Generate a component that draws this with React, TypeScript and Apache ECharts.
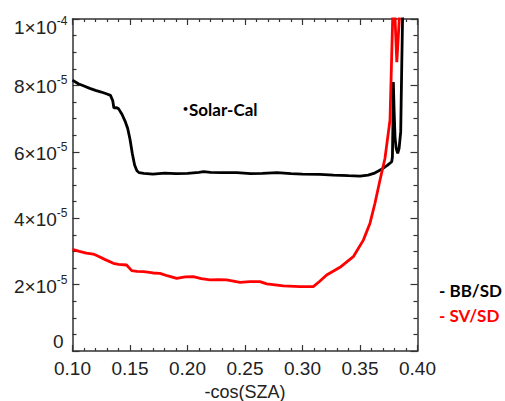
import React, { useEffect, useRef } from "react";
import * as echarts from "echarts";

// BB/SD (black) curve
const bbX = [0.100, 0.105, 0.110, 0.115, 0.120, 0.125, 0.130, 0.133, 0.135, 0.136, 0.138, 0.140, 0.143, 0.146, 0.148, 0.150, 0.152, 0.154, 0.156, 0.158, 0.162, 0.170, 0.180, 0.190, 0.200, 0.210, 0.214, 0.220, 0.230, 0.243, 0.255, 0.265, 0.278, 0.290, 0.300, 0.315, 0.327, 0.340, 0.350, 0.357, 0.362, 0.366, 0.370, 0.374, 0.3776, 0.3782, 0.3786, 0.379, 0.3796, 0.3805, 0.3815, 0.3828, 0.384, 0.3854, 0.3863, 0.387, 0.3878];
const bbY = [81.6e-6, 80.5e-6, 79.8e-6, 79.1e-6, 78.5e-6, 78.0e-6, 77.4e-6, 77.0e-6, 75.4e-6, 73.2e-6, 73.3e-6, 73.0e-6, 71.3e-6, 69.0e-6, 67.0e-6, 63.8e-6, 59.5e-6, 56.0e-6, 54.3e-6, 53.7e-6, 53.5e-6, 53.3e-6, 53.6e-6, 53.4e-6, 53.5e-6, 53.8e-6, 54.0e-6, 53.8e-6, 53.7e-6, 53.7e-6, 53.4e-6, 53.5e-6, 53.7e-6, 53.4e-6, 53.3e-6, 53.2e-6, 53.0e-6, 52.8e-6, 52.7e-6, 53.0e-6, 53.5e-6, 54.2e-6, 55.0e-6, 56.0e-6, 57.0e-6, 58.5e-6, 68e-6, 81e-6, 73e-6, 64e-6, 61e-6, 59.5e-6, 61e-6, 66e-6, 86e-6, 100e-6, 115e-6];

// SV/SD (red) curve
const svX = [0.100, 0.106, 0.112, 0.118, 0.122, 0.128, 0.1355, 0.140, 0.147, 0.1515, 0.156, 0.162, 0.170, 0.176, 0.183, 0.1906, 0.198, 0.205, 0.212, 0.2196, 0.227, 0.234, 0.2457, 0.2543, 0.263, 0.2689, 0.2833, 0.2978, 0.3094, 0.315, 0.321, 0.3326, 0.3442, 0.3529, 0.3587, 0.363, 0.3674, 0.3717, 0.3761, 0.3784, 0.3795, 0.3805, 0.382, 0.3842, 0.385];
const svY = [30.6e-6, 30.0e-6, 29.5e-6, 29.2e-6, 28.6e-6, 27.6e-6, 26.4e-6, 26.1e-6, 25.9e-6, 24.2e-6, 24.0e-6, 23.9e-6, 23.5e-6, 23.4e-6, 22.6e-6, 21.9e-6, 22.3e-6, 22.4e-6, 21.8e-6, 21.4e-6, 21.5e-6, 21.4e-6, 20.7e-6, 20.9e-6, 20.9e-6, 20.2e-6, 19.6e-6, 19.4e-6, 19.4e-6, 21.0e-6, 22.9e-6, 25.2e-6, 28.4e-6, 33.4e-6, 38.5e-6, 44.5e-6, 51.5e-6, 58.0e-6, 69.6e-6, 100e-6, 115e-6, 100e-6, 87e-6, 100e-6, 110e-6];

const xMin = 0.1;
const xMax = 0.4;
const xStep = 0.05;
const yMin = 0;
const yMax = 1e-4;
const yStep = 2e-5;

const xName = "-cos(SZA)";
const annotation = "Solar-Cal";
const legendLabels = ["- BB/SD", "- SV/SD"];
const seriesColors = ["#000000", "#ff0000"];

const axisColor = "#333";
const labelColor = "#222";
const labelFont = "Liberation Sans";

function yFormatter(v: number): string {
  if (Math.abs(v) < 1e-12) return "{z|0}";
  const exp = Math.floor(Math.log10(v) + 1e-9);
  const mant = Math.round(v / Math.pow(10, exp));
  const main = `{a|${mant}×10}{b|${exp}}`;
  if (Math.abs(v - yMax) < 1e-12) return `{e| }\n${main}`;
  return main;
}

export default function App() {
  const ref = useRef<HTMLDivElement>(null);
  useEffect(() => {
    if (!ref.current) return;
    const chart = echarts.init(ref.current, undefined, { renderer: "svg" });
    const tickCommon = {
      axisLine: { show: true, onZero: false, lineStyle: { color: axisColor, width: 1.5 } },
      splitLine: { show: false },
    };
    const bb = bbX.map((x, i) => [x, bbY[i]]);
    const sv = svX.map((x, i) => [x, svY[i]]);
    chart.setOption({
      animation: false,
      backgroundColor: "#fff",
      grid: { left: 72.5, right: 87.5, top: 19, bottom: 50, containLabel: false, outerBoundsMode: "none" },
      xAxis: [
        {
          type: "value",
          position: "bottom",
          min: xMin,
          max: xMax,
          interval: xStep,
          ...tickCommon,
          axisTick: { show: true, inside: true, length: 6, lineStyle: { color: axisColor, width: 1.2 } },
          minorTick: { show: true, splitNumber: 5, length: 3, lineStyle: { color: axisColor, width: 1.2 } },
          axisLabel: {
            formatter: (v: number) => v.toFixed(2),
            fontSize: 19,
            color: labelColor,
            fontFamily: labelFont,
            margin: 8,
          },
          name: xName,
          nameLocation: "middle",
          nameGap: 25,
          nameTextStyle: { fontSize: 18, lineHeight: 18, color: labelColor, fontFamily: labelFont },
        },
        {
          type: "value",
          position: "top",
          min: xMin,
          max: xMax,
          interval: xStep,
          ...tickCommon,
          axisTick: { show: true, inside: true, length: 6, lineStyle: { color: axisColor, width: 1.2 } },
          minorTick: { show: true, splitNumber: 5, length: 3, lineStyle: { color: axisColor, width: 1.2 } },
          axisLabel: { show: false },
        },
      ],
      yAxis: [
        {
          type: "value",
          position: "left",
          min: yMin,
          max: yMax,
          interval: yStep,
          ...tickCommon,
          axisTick: { show: true, inside: true, length: 7, lineStyle: { color: axisColor, width: 1.2 } },
          minorTick: { show: true, splitNumber: 4, length: 4, lineStyle: { color: axisColor, width: 1.2 } },
          axisLabel: {
            formatter: yFormatter,
            margin: 5,
            color: labelColor,
            fontFamily: labelFont,
            verticalAlignMinLabel: "bottom",
            rich: {
              a: { fontSize: 19, color: labelColor, fontFamily: labelFont, lineHeight: 22, verticalAlign: "bottom" },
              b: { fontSize: 12, color: labelColor, fontFamily: labelFont, lineHeight: 22, verticalAlign: "top" },
              e: { fontSize: 10, lineHeight: 14 },
              z: { fontSize: 19, color: labelColor, fontFamily: labelFont, padding: [0, 4, 0, 0] },
            },
          },
        },
        {
          type: "value",
          position: "right",
          min: yMin,
          max: yMax,
          interval: yStep,
          ...tickCommon,
          axisTick: { show: true, inside: true, length: 7, lineStyle: { color: axisColor, width: 1.2 } },
          minorTick: { show: true, splitNumber: 4, length: 4, lineStyle: { color: axisColor, width: 1.2 } },
          axisLabel: { show: false },
        },
      ],
      series: [
        {
          type: "line",
          name: "BB/SD",
          data: bb,
          xAxisIndex: 0,
          yAxisIndex: 0,
          showSymbol: false,
          clip: true,
          lineStyle: { color: seriesColors[0], width: 2.8 },
          itemStyle: { color: seriesColors[0] },
        },
        {
          type: "line",
          name: "SV/SD",
          data: sv,
          xAxisIndex: 0,
          yAxisIndex: 0,
          showSymbol: false,
          clip: true,
          lineStyle: { color: seriesColors[1], width: 2.8 },
          itemStyle: { color: seriesColors[1] },
        },
      ],
      graphic: [
        {
          type: "text",
          left: 182,
          top: 101,
          style: {
            text: "{p|•}{q|" + annotation + "}",
            rich: {
              p: { fontSize: 11, fontFamily: "DejaVu Sans", fontWeight: "bold", fill: "#000" },
              q: { fontSize: 17, fontFamily: "Lato", fontWeight: "bold", fill: "#000" },
            },
            fill: "#000",
          },
        },
        {
          type: "text",
          left: 439,
          top: 282,
          style: { text: legendLabels[0], font: "bold 17px Lato", fill: seriesColors[0] },
        },
        {
          type: "text",
          left: 439,
          top: 307,
          style: { text: legendLabels[1], font: "bold 17px Lato", fill: seriesColors[1] },
        },
      ],
    });
    return () => chart.dispose();
  }, []);
  return (
    <div
      ref={ref}
      style={{ position: "absolute", left: 0, top: 0, width: 505, height: 401 }}
    />
  );
}
